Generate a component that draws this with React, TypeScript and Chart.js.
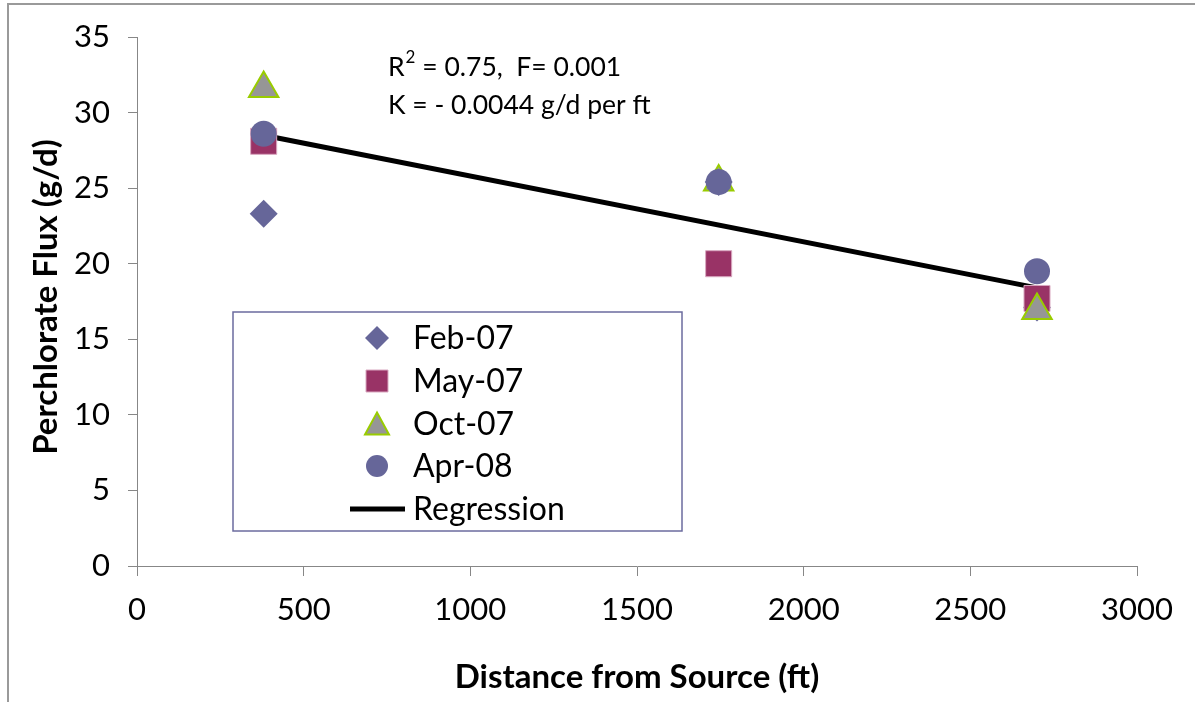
import React, { useEffect, useRef } from 'react';
import { Chart, registerables } from 'chart.js';

Chart.register(...registerables);

// ---- data ----
const distances = [380, 1745, 2700];
const feb07 = [23.3, 25.4, 17.1];
const may07 = [28.1, 20.0, 17.7];
const oct07 = [31.6, 25.4, 16.9];
const apr08 = [28.6, 25.4, 19.5];
const regressionX = [380, 2700];
const regressionY = [28.5, 18.4];
const xTickValues = [0, 500, 1000, 1500, 2000, 2500, 3000];
const yTickValues = [0, 5, 10, 15, 20, 25, 30, 35];
const seriesNames = ['Feb-07', 'May-07', 'Oct-07', 'Apr-08', 'Regression'];
const xTitle = 'Distance from Source (ft)';
const yTitle = 'Perchlorate Flux (g/d)';
const statR2 = '0.75';
const statF = '0.001';
const statK = 'K = - 0.0044 g/d per ft';

const FONT = 'Lato, "Open Sans", "DejaVu Sans", sans-serif';
const AXIS = '#878787';
const PURPLE = '#666699';
const MAROON = '#993366';
const GREY = '#969696';
const LIME = '#99CC00';

function pts(ys: number[], xs: number[] = distances) {
  return xs.map((x, i) => ({ x, y: ys[i] }));
}

function drawMarker(ctx: CanvasRenderingContext2D, kind: string, x: number, y: number, s: number) {
  ctx.save();
  ctx.beginPath();
  if (kind === 'diamond') {
    ctx.moveTo(x - s, y); ctx.lineTo(x, y - s); ctx.lineTo(x + s, y); ctx.lineTo(x, y + s); ctx.closePath();
    ctx.fillStyle = PURPLE; ctx.fill();
  } else if (kind === 'square') {
    ctx.rect(x - s, y - s, 2 * s, 2 * s);
    ctx.fillStyle = MAROON; ctx.fill();
    ctx.strokeStyle = '#d9a8c0'; ctx.lineWidth = 1; ctx.stroke();
  } else if (kind === 'triangle') {
    const h = s * 1.75;
    ctx.moveTo(x, y - h / 2 - 1); ctx.lineTo(x + s, y + h / 2); ctx.lineTo(x - s, y + h / 2); ctx.closePath();
    ctx.fillStyle = GREY; ctx.fill();
    ctx.strokeStyle = LIME; ctx.lineWidth = 2; ctx.stroke();
  } else if (kind === 'circle') {
    ctx.arc(x, y, s, 0, Math.PI * 2);
    ctx.fillStyle = PURPLE; ctx.fill();
  } else if (kind === 'line') {
    ctx.moveTo(x - 27, y); ctx.lineTo(x + 28, y);
    ctx.strokeStyle = '#000'; ctx.lineWidth = 5; ctx.stroke();
  }
  ctx.restore();
}

const extrasPlugin = {
  id: 'extras',
  afterDraw(chart: any) {
    const ctx: CanvasRenderingContext2D = chart.ctx;
    const area = chart.chartArea;
    ctx.save();
    ctx.fillStyle = '#000';
    // axis titles
    ctx.font = `bold 33px ${FONT}`;
    ctx.textAlign = 'center';
    ctx.textBaseline = 'middle';
    ctx.fillText(xTitle, (area.left + area.right) / 2, 677);
    ctx.save();
    ctx.translate(46, 297);
    ctx.rotate(-Math.PI / 2);
    ctx.fillText(yTitle, 0, 0);
    ctx.restore();

    // statistics annotation
    ctx.textAlign = 'left';
    ctx.textBaseline = 'alphabetic';
    ctx.font = `26.5px ${FONT}`;
    let x = 388;
    ctx.fillText('R', x, 76);
    x += ctx.measureText('R').width;
    ctx.font = `17px ${FONT}`;
    ctx.fillText('2', x + 1, 63);
    x += ctx.measureText('2').width + 1;
    ctx.font = `26.5px ${FONT}`;
    ctx.fillText(` = ${statR2},  F= ${statF}`, x, 76);
    ctx.fillText(statK, 388, 114);

    // legend
    const lx = 233, ly = 312, lw = 449, lh = 219;
    ctx.strokeStyle = '#6b6b9e';
    ctx.lineWidth = 1.5;
    ctx.strokeRect(lx, ly, lw, lh);
    const kinds = ['diamond', 'square', 'triangle', 'circle', 'line'];
    const sizes = [12, 11, 12, 11, 0];
    const rowY = [338, 381, 424, 466, 509];
    ctx.font = `32px ${FONT}`;
    ctx.textBaseline = 'middle';
    seriesNames.forEach((name, i) => {
      drawMarker(ctx, kinds[i], 377, rowY[i], sizes[i]);
      ctx.fillStyle = '#000';
      ctx.fillText(name, 413, rowY[i] + 1);
    });
    ctx.restore();
  },
};

export default function App() {
  const ref = useRef<HTMLCanvasElement | null>(null);
  useEffect(() => {
    if (!ref.current) return;
    const chart = new Chart(ref.current, {
      type: 'scatter',
      data: {
        datasets: [
          {
            label: seriesNames[4],
            type: 'line',
            data: pts(regressionY, regressionX),
            borderColor: '#000',
            borderWidth: 5,
            pointRadius: 0,
            showLine: true,
            fill: false,
            order: 5,
          } as any,
          {
            label: seriesNames[0],
            data: pts(feb07),
            pointStyle: 'rectRot',
            pointRadius: 14,
            backgroundColor: PURPLE,
            borderColor: PURPLE,
            borderWidth: 0,
            order: 4,
          },
          {
            label: seriesNames[1],
            data: pts(may07),
            pointStyle: 'rect',
            pointRadius: 18.4,
            backgroundColor: MAROON,
            borderColor: '#d9a8c0',
            borderWidth: 1,
            order: 3,
          },
          {
            label: seriesNames[2],
            data: pts(oct07),
            pointStyle: 'triangle',
            pointRadius: 17,
            backgroundColor: GREY,
            borderColor: LIME,
            borderWidth: 2,
            order: 2,
          },
          {
            label: seriesNames[3],
            data: pts(apr08),
            pointStyle: 'circle',
            pointRadius: 13,
            backgroundColor: PURPLE,
            borderColor: PURPLE,
            borderWidth: 0,
            order: 1,
          },
        ],
      },
      options: {
        animation: false,
        responsive: false,
        maintainAspectRatio: false,
        layout: { padding: { top: 37, right: 58, left: 0, bottom: 0 } },
        plugins: { legend: { display: false }, tooltip: { enabled: false }, title: { display: false } },
        scales: {
          x: {
            type: 'linear',
            position: 'bottom',
            min: 0,
            max: 3000,
            afterBuildTicks: (axis: any) => { axis.ticks = xTickValues.map((v) => ({ value: v })); },
            afterFit: (axis: any) => { axis.height = 136; },
            ticks: {
              color: '#000',
              font: { family: FONT, size: 31 },
              padding: 15,
              maxRotation: 0,
              autoSkip: false,
              callback: (v: any) => String(v),
            },
            grid: { drawOnChartArea: false, drawTicks: true, tickLength: 10, color: AXIS, tickWidth: 1 },
            border: { display: true, color: AXIS, width: 1 },
            title: { display: false },
          },
          y: {
            type: 'linear',
            min: 0,
            max: 35,
            afterBuildTicks: (axis: any) => { axis.ticks = yTickValues.map((v) => ({ value: v })); },
            afterFit: (axis: any) => { axis.width = 137; },
            ticks: { color: '#000', font: { family: FONT, size: 31 }, padding: 18, autoSkip: false, callback: (v: any) => String(v) },
            grid: { drawOnChartArea: false, drawTicks: true, tickLength: 9, color: AXIS, tickWidth: 1 },
            border: { display: true, color: AXIS, width: 1 },
            title: { display: false },
          },
        },
      },
      plugins: [extrasPlugin],
    });
    return () => chart.destroy();
  }, []);

  return (
    <div style={{ position: 'fixed', left: 0, top: 0, width: 1195, height: 702, overflow: 'hidden', background: '#fff' }}>
      <div style={{ position: 'absolute', left: 7, top: 3, width: 1300, height: 800, borderLeft: '2px solid #9a9a9a', borderTop: '2px solid #9a9a9a' }} />
      <canvas ref={ref} width={1195} height={702} style={{ position: 'absolute', left: 0, top: 0, width: 1195, height: 702 }} />
    </div>
  );
}
